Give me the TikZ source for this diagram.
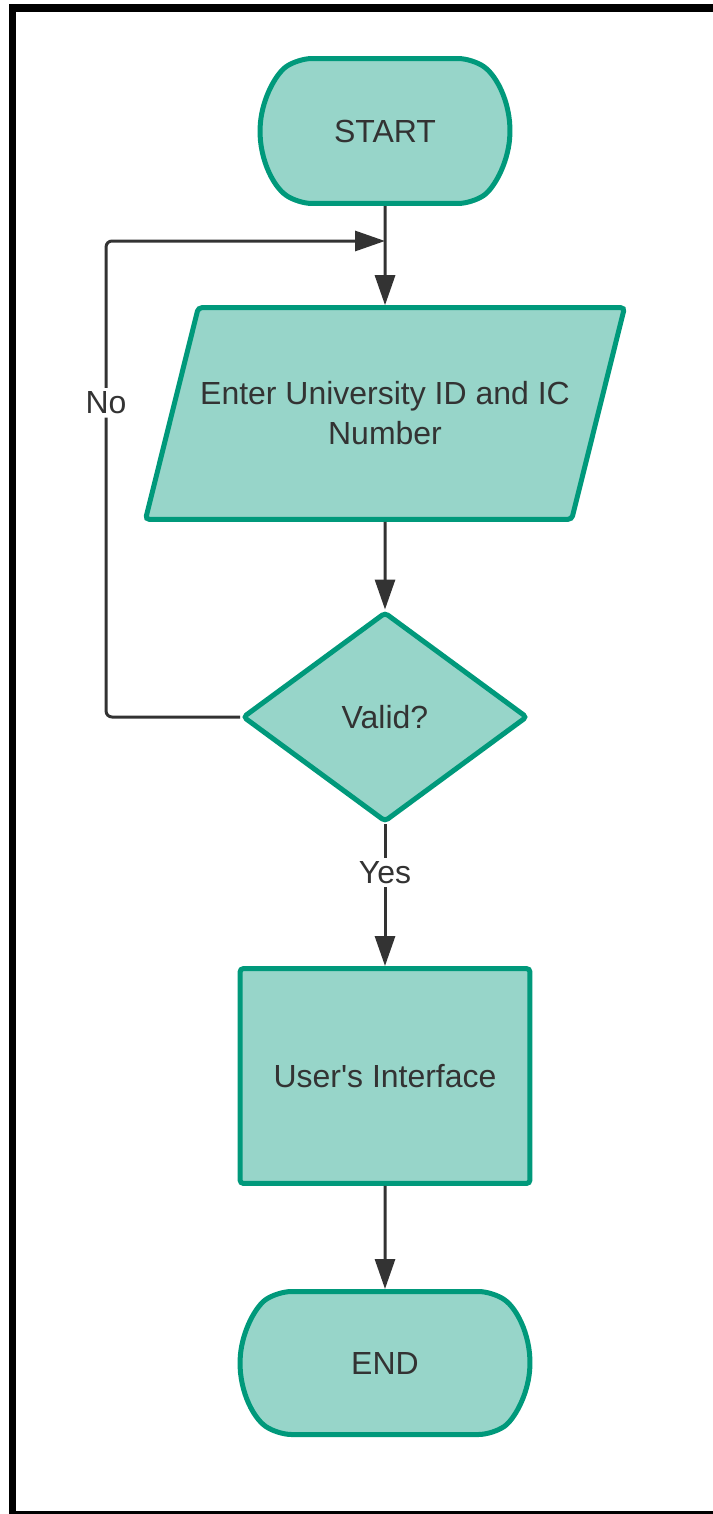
\documentclass[tikz,border=0pt]{standalone}
\usepackage{fontspec}
\setmainfont{Liberation Sans}
\usetikzlibrary{shapes.geometric,shapes.misc,arrows.meta}
\definecolor{boxfill}{HTML}{97D5C9}
\definecolor{boxline}{HTML}{00997B}
\definecolor{ink}{HTML}{333333}

\begin{document}
\begin{tikzpicture}[x=0.02cm,y=-0.02cm,
    every node/.style={font=\fontsize{18.2}{22.8}\selectfont, text=ink},
    shapebox/.style={draw=boxline, fill=boxfill, line width=0.1cm, inner sep=0pt},
    terminal/.style={shapebox, rounded rectangle, rounded rectangle arc length=110, rounded corners=8pt},
    flow/.style={draw=ink, line width=0.06cm, -{Triangle[length=0.6cm,width=0.4cm]}}]
    \useasboundingbox (0,0) rectangle (713,1514);
    \fill[white] (0,0) rectangle (713,1514);
    % frame
    \fill[black] (9,4) rectangle (16,1514);
    \fill[black] (9,4) rectangle (713,12);
    \fill[black] (9,1511) rectangle (713,1514);
    % shapes
    \node[terminal, minimum width=5.0cm, minimum height=2.9cm] (start) at (385,131) {START};
    \node[shapebox, trapezium, trapezium left angle=76, trapezium right angle=104,
          trapezium stretches body, rounded corners=2pt, inner ysep=1.48cm,
          minimum width=9.58cm, align=center] (entry) at (385,413.5)
          {Enter University ID and IC\\Number};
    \node[shapebox, diamond, rounded corners=2pt, minimum width=5.7cm, minimum height=4.2cm] (valid) at (385,717) {Valid?};
    \node[shapebox, rectangle, rounded corners=2pt, minimum width=5.8cm, minimum height=4.3cm] (ui) at (385,1076) {User\textquotesingle s Interface};
    \node[terminal, minimum width=5.8cm, minimum height=2.86cm] (end) at (385,1363) {END};
    \coordinate (merge) at (385,241);
    % arrows
    \draw[flow] (start) -- (entry);
    \draw[flow] (entry) -- (valid);
    \draw[flow] (valid) -- node[pos=0.34, fill=white, inner sep=2pt]{Yes} (ui);
    \draw[flow] (ui) -- (end);
    \draw[flow, rounded corners=0.12cm] (valid.west) -- ++(-134,0) |- node[pos=0.33, fill=white, inner sep=2pt]{No} (merge);
\end{tikzpicture}
\end{document}
